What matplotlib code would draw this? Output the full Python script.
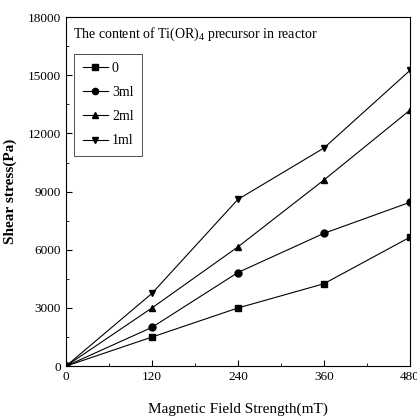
import matplotlib.pyplot as plt
from matplotlib.ticker import MultipleLocator

plt.rcParams['font.family'] = ['Liberation Serif', 'DejaVu Serif']
plt.rcParams['mathtext.fontset'] = 'custom'
plt.rcParams['mathtext.rm'] = 'Liberation Serif'

field = [0, 120, 240, 360, 480]
s0 = [0, 1500, 3000, 4250, 6650]
s3ml = [0, 2000, 4830, 6850, 8450]
s2ml = [0, 3000, 6150, 9600, 13200]
s1ml = [0, 3750, 8600, 11250, 15250]

labels = ['0', '3ml', '2ml', '1ml']
markers = ['s', 'o', '^', 'v']

fig = plt.figure(figsize=(4.17, 4.18), dpi=100)
ax = fig.add_axes([0.158, 0.124, 0.825, 0.835])

for ys, lab, m in zip([s0, s3ml, s2ml, s1ml], labels, markers):
    ax.plot(field, ys, color='black', lw=0.8, marker=m, markersize=5, label=lab)

ax.set_xlim(0, 480)
ax.set_ylim(0, 18000)
ax.xaxis.set_major_locator(MultipleLocator(120))
ax.xaxis.set_minor_locator(MultipleLocator(60))
ax.yaxis.set_major_locator(MultipleLocator(3000))
ax.yaxis.set_minor_locator(MultipleLocator(1500))
ax.tick_params(which='both', direction='in', labelsize=9.5)
ax.tick_params(which='major', length=4)
ax.tick_params(which='minor', length=2)

ax.set_xlabel('Magnetic Field Strength(mT)', fontsize=11, labelpad=14)
ax.set_ylabel('Shear stress(Pa)', fontsize=11, fontweight='bold', labelpad=8)

ax.text(0.02, 0.975, 'The content of Ti(OR)$_4$ precursor in reactor',
        transform=ax.transAxes, fontsize=10, va='top')

leg = ax.legend(loc='upper left', bbox_to_anchor=(0.025, 0.895), fontsize=10,
                frameon=True, fancybox=False, edgecolor='black',
                handlelength=1.8, handletextpad=0.3, borderpad=0.6,
                labelspacing=0.8, borderaxespad=0, markerscale=0.9)
leg.get_frame().set_linewidth(0.6)

plt.savefig('out.png', dpi=100)
